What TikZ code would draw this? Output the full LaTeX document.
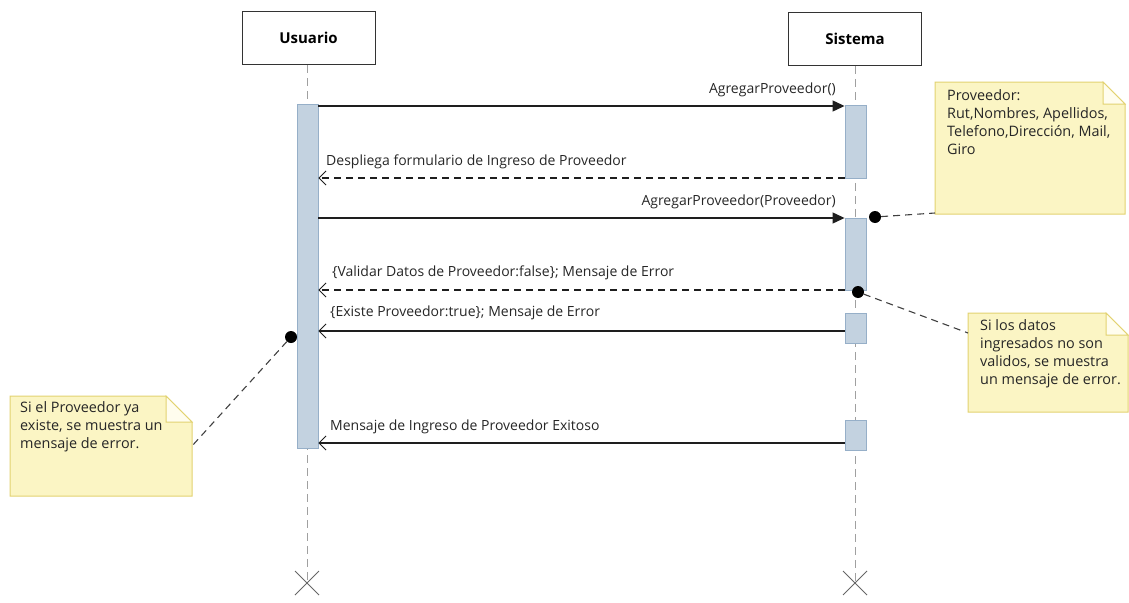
\documentclass[tikz,border=0pt]{standalone}
\usepackage{fontspec}
\setmainfont{Open Sans}
\usetikzlibrary{arrows.meta,backgrounds}
\definecolor{actfill}{RGB}{195,210,224}
\definecolor{actdraw}{RGB}{150,175,200}
\definecolor{notefill}{RGB}{251,245,196}
\definecolor{notedraw}{RGB}{226,210,112}
\definecolor{foldfill}{RGB}{255,253,238}
\definecolor{lifegray}{RGB}{160,160,160}
\definecolor{msgcol}{RGB}{30,30,30}
\tikzset{
  part/.style={draw=black!80, line width=0.9pt, fill=white, minimum width=133pt, minimum height=53pt, inner sep=0pt, font=\fontsize{15}{17}\selectfont\bfseries},
  life/.style={draw=lifegray, line width=0.9pt, dash pattern=on 8pt off 5pt},
  act/.style={draw=actdraw, fill=actfill, line width=0.9pt, minimum width=21pt, inner sep=0pt},
  msg/.style={draw=msgcol, line width=1.2pt},
  callarrow/.style={msg, -{Triangle[length=12pt,width=11pt]}},
  retarrow/.style={msg, dashed, dash pattern=on 7pt off 5pt, -{Straight Barb[length=7pt,width=14pt,line width=0.9pt]}},
  replyarrow/.style={msg, -{Straight Barb[length=7pt,width=14pt,line width=0.9pt]}},
  lbl/.style={font=\fontsize{14}{16}\selectfont, inner sep=0pt, text=black!85},
  notetxt/.style={anchor=north west, align=left, inner sep=0pt, font=\fontsize{14.4}{18}\selectfont, text=black!85},
  notelink/.style={draw=black!75, line width=1.1pt, dash pattern=on 7pt off 5pt},
  dot/.style={circle, fill=black, minimum size=12pt, inner sep=0pt},
  xmark/.style={draw=black!60, line width=0.9pt}
}
\begin{document}
\begin{tikzpicture}[x=1pt,y=-1pt]
\useasboundingbox (0,0) rectangle (1129,602);

% participants
\node[part] (U) at (308.5,38) {Usuario};
\node[part] (S) at (855,39) {Sistema};

% lifeline ends
\coordinate (Uend) at (307,583);
\coordinate (Send) at (855,583);
\draw[life] (U.south -| Uend) -- (Uend);
\draw[life] (S.south -| Send) -- (Send);
\draw[xmark] (Uend) ++(-12,-12) -- ++(24,24) (Uend) ++(-12,12) -- ++(24,-24);
\draw[xmark] (Send) ++(-12,-12) -- ++(24,24) (Send) ++(-12,12) -- ++(24,-24);

% activations
\node[act, minimum height=344pt] (UA) at (307.5,276) {};
\node[act, minimum height=73pt] (SA1) at (855.5,141.5) {};
\node[act, minimum height=72pt] (SA2) at (855.5,254) {};
\node[act, minimum height=30pt] (SA3) at (855.5,328) {};
\node[act, minimum height=30pt] (SA4) at (855.5,435) {};

% message rows
\coordinate (y1) at (0,106);
\coordinate (y2) at (0,178);
\coordinate (y3) at (0,218);
\coordinate (y4) at (0,290);
\coordinate (y5) at (0,331);
\coordinate (y6) at (0,443);

\draw[callarrow] (UA.east |- y1) -- (SA1.west |- y1);
\node[lbl, anchor=base east] (l1) at (836,93) {AgregarProveedor()};

\draw[retarrow] (SA1.west |- y2) -- (UA.east |- y2);
\node[lbl, anchor=base west] (l2) at (326,165) {Despliega formulario de Ingreso de Proveedor};

\draw[callarrow] (UA.east |- y3) -- (SA2.west |- y3);
\node[lbl, anchor=base east] (l3) at (836,205) {AgregarProveedor(Proveedor)};

\draw[retarrow] (SA2.west |- y4) -- (UA.east |- y4);
\node[lbl, anchor=base west] (l4) at (332,276) {\{Validar Datos de Proveedor:false\}; Mensaje de Error};

\draw[replyarrow] (SA3.west |- y5) -- (UA.east |- y5);
\node[lbl, anchor=base west] (l5) at (330,316) {\{Existe Proveedor:true\}; Mensaje de Error};

\draw[replyarrow] (SA4.west |- y6) -- (UA.east |- y6);
\node[lbl, anchor=base west] (l6) at (330,430) {Mensaje de Ingreso de Proveedor Exitoso};

% notes
\node[notetxt] (N1t) at (947,89) {Proveedor:\\Rut,Nombres, Apellidos,\\Telefono,Dirección, Mail,\\Giro};
\node[notetxt] (N2t) at (980,319) {Si los datos\\ingresados no son\\validos, se muestra\\un mensaje de error.};
\node[notetxt] (N3t) at (20,401) {Si el Proveedor ya\\existe, se muestra un\\mensaje de error.};

\begin{scope}[on background layer]
  % note 1: 935..1125, 82..214
  \coordinate (N1nw) at (935,82);
  \coordinate (N1se) at (1125,214);
  \filldraw[fill=notefill, draw=notedraw, line width=1pt]
    (N1nw) -- (1103,82) -- (1125,104) -- (N1se) -- (935,214) -- cycle;
  \filldraw[fill=foldfill, draw=notedraw, line width=1pt] (1103,82) -- (1103,104) -- (1125,104) -- cycle;
  % note 2: 968..1128, 313..412
  \coordinate (N2nw) at (968,313);
  \filldraw[fill=notefill, draw=notedraw, line width=1pt]
    (N2nw) -- (1106,313) -- (1128,335) -- (1128,412) -- (968,412) -- cycle;
  \filldraw[fill=foldfill, draw=notedraw, line width=1pt] (1106,313) -- (1106,335) -- (1128,335) -- cycle;
  % note 3: 10..192, 396..496
  \coordinate (N3nw) at (10,396);
  \filldraw[fill=notefill, draw=notedraw, line width=1pt]
    (N3nw) -- (166,396) -- (192,422) -- (192,496) -- (10,496) -- cycle;
  \filldraw[fill=foldfill, draw=notedraw, line width=1pt] (166,396) -- (166,422) -- (192,422) -- cycle;
\end{scope}

% note anchors
\coordinate (N1a) at (935,213);
\coordinate (N2a) at (968,333);
\coordinate (N3a) at (192,446);

\node[dot] (d1) at (875,217) {};
\node[dot] (d2) at (858,292) {};
\node[dot] (d3) at (291,337) {};

\draw[notelink] (d1) -- (N1a);
\draw[notelink] (d2) -- (N2a);
\draw[notelink] (d3) -- (N3a);
\end{tikzpicture}
\end{document}
